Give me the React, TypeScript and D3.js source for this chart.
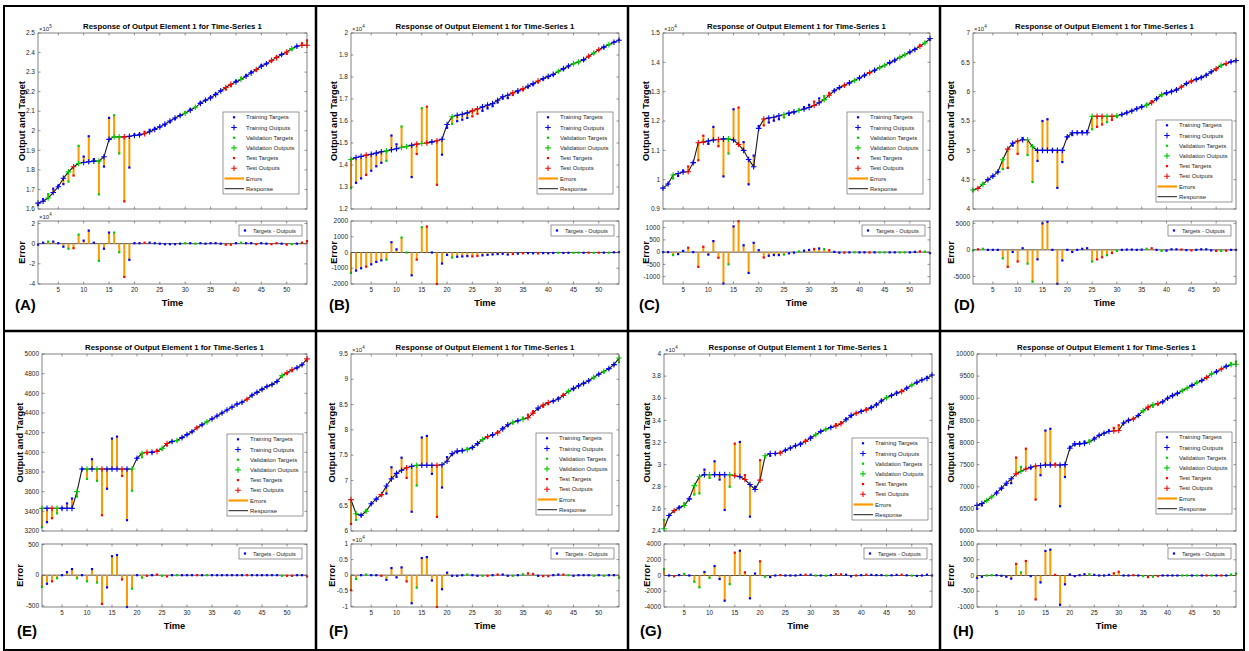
import React from 'react';
import * as d3 from 'd3';

// ---- data (axis units) ----
// split codes: b = training, g = validation, r = test

const outputsA = [1.630, 1.640, 1.656, 1.684, 1.714, 1.757, 1.790, 1.816, 1.833, 1.838,
	1.842, 1.845, 1.845, 1.867, 1.956, 1.969, 1.969, 1.969, 1.972, 1.976,
	1.979, 1.985, 1.995, 2.007, 2.020, 2.034, 2.050, 2.065, 2.078, 2.090,
	2.105, 2.120, 2.140, 2.156, 2.168, 2.185, 2.204, 2.221, 2.238, 2.250,
	2.262, 2.279, 2.296, 2.313, 2.330, 2.343, 2.360, 2.374, 2.390, 2.403,
	2.420, 2.432, 2.437, 2.437];
const errorsA = [-0.1, 0.1, 0.2, 0.2, 0.05, -0.3, -0.5, -0.45, 0.9, 0.3,
	1.3, 0.1, -1.7, -0.5, 1.1, 1.1, -0.85, -3.3, -1.6, 0.05,
	0.05, 0.1, 0.1, 0.05, 0, -0.05, -0.05, -0.05, 0, 0.05,
	0.05, 0, 0.05, 0, 0.05, 0.05, 0, -0.1, -0.1, 0.05,
	0.1, 0.05, 0.05, -0.05, 0.05, 0, -0.05, 0.05, 0, -0.1,
	-0.05, 0, 0.1, 0.25];
const splitA = 'bbgbbbgrgbbbgbbggrbbbrbbbbbbbgbgbbbbbrrbgbbrbbrrbrgbrr';

const outputsB = [1.425, 1.434, 1.439, 1.445, 1.449, 1.454, 1.460, 1.464, 1.469, 1.474,
	1.480, 1.484, 1.490, 1.495, 1.498, 1.500, 1.505, 1.510, 1.517, 1.584,
	1.619, 1.626, 1.631, 1.637, 1.646, 1.655, 1.664, 1.672, 1.679, 1.694,
	1.710, 1.717, 1.728, 1.737, 1.746, 1.758, 1.770, 1.782, 1.793, 1.803,
	1.812, 1.826, 1.838, 1.850, 1.861, 1.868, 1.879, 1.894, 1.909, 1.924,
	1.936, 1.947, 1.958, 1.967];
const errorsB = [-1300, -1150, -1000, -900, -750, -600, -500, -450, 650, 200,
	950, 0, -1450, -450, 1600, 1650, 0, -2000, -700, -150,
	-320, -270, -250, -230, -250, -220, -180, -150, -120, -100,
	-80, -130, -100, -70, -50, -40, -50, -60, -40, -50,
	-30, -20, -30, -20, -20, -10, -20, -10, -20, -10,
	-10, -10, 10, 20];
const splitB = 'gbbrbbbgbbggbrgrbrbbgbbbrrbbbbbbrbrbbrbbbgbbggbrgrbgbb';

const outputsC = [0.971, 0.985, 1.016, 1.021, 1.026, 1.027, 1.058, 1.126, 1.128, 1.132,
	1.135, 1.137, 1.139, 1.139, 1.135, 1.120, 1.100, 1.069, 1.044, 1.175,
	1.207, 1.210, 1.213, 1.218, 1.222, 1.227, 1.231, 1.236, 1.241, 1.246,
	1.253, 1.262, 1.273, 1.288, 1.303, 1.314, 1.322, 1.330, 1.338, 1.347,
	1.356, 1.365, 1.373, 1.382, 1.390, 1.399, 1.407, 1.417, 1.426, 1.435,
	1.444, 1.455, 1.466, 1.481];
const errorsC = [0, 0, -120, -80, 50, 180, 0, -600, 220, -100,
	450, -230, -1280, -500, 1050, 1260, 280, -850, 380, 80,
	-220, -150, -120, -120, -100, -50, -20, 30, 60, 90,
	130, 150, 120, 80, 10, -20, -20, -10, -10, -10,
	-10, -15, -10, -10, -10, -10, -10, -10, -10, -10,
	10, 30, 20, -40];
const splitC = 'bbgbbrbrrbbrbgbrbbbbrbbbgbbgbbrbgrbbrbgbbrbggbbggbbrgb';

const outputsD = [4.323, 4.35, 4.42, 4.50, 4.56, 4.63, 4.84, 5.02, 5.12, 5.16,
	5.18, 5.18, 5.06, 5.00, 5.00, 5.00, 5.00, 5.00, 5.00, 5.23,
	5.30, 5.30, 5.30, 5.30, 5.58, 5.58, 5.58, 5.58, 5.58, 5.59,
	5.61, 5.64, 5.67, 5.71, 5.74, 5.77, 5.81, 5.88, 5.95, 5.98,
	6.00, 6.03, 6.08, 6.14, 6.18, 6.21, 6.24, 6.28, 6.34, 6.39,
	6.45, 6.48, 6.51, 6.53];
const errorsD = [-100, 100, 200, 0, 0, 0, -1600, -3200, -400, -2200,
	300, -2600, -6000, -1800, 5000, 5300, 0, -6400, -2000, 0,
	-400, 0, 200, 300, -2200, -1800, -1400, -1000, -600, -200,
	0, 50, 50, 0, 50, 200, 300, 0, -200, -150,
	100, 100, 50, -50, -100, 0, 100, 100, -100, -200,
	-200, -150, 0, 0];
const splitD = 'grgbbbgrbrbggbbbbbbbbbbbgrrgrgbbbbbgrbgbbbrbrbbbbrgrbb';

const outputsE = [3430, 3430, 3430, 3430, 3430, 3430, 3430, 3600, 3830, 3830,
	3830, 3830, 3830, 3830, 3830, 3830, 3830, 3830, 3830, 3940,
	3990, 4000, 4000, 4010, 4040, 4090, 4110, 4120, 4150, 4180,
	4210, 4250, 4280, 4310, 4340, 4370, 4400, 4430, 4460, 4490,
	4510, 4540, 4580, 4610, 4640, 4670, 4690, 4720, 4780, 4810,
	4840, 4860, 4890, 4950];
const errorsE = [-190, -140, -100, -50, 0, 50, 100, -50, 0, -100,
	100, -120, -470, -200, 310, 330, -70, -520, -220, 0,
	-40, -10, 0, 10, -10, -20, 0, 0, 0, 0,
	0, 0, 0, 0, 0, 0, 0, 0, 0, 0,
	0, 0, 0, 0, 0, 0, 0, 0, -10, -10,
	-10, 0, 0, -20];
const splitE = 'gbrgbbbgbgbgrbbbrbgbgrbrgrbgbbbrbgbbbbbbbrbbbbbbgrrbbr';

const outputsF = [6.62, 6.34, 6.31, 6.39, 6.54, 6.63, 6.72, 6.89, 7.03, 7.14,
	7.20, 7.25, 7.28, 7.30, 7.30, 7.30, 7.30, 7.30, 7.31, 7.38,
	7.53, 7.58, 7.59, 7.61, 7.65, 7.73, 7.81, 7.87, 7.90, 7.94,
	8.02, 8.10, 8.15, 8.18, 8.21, 8.24, 8.33, 8.43, 8.49, 8.54,
	8.57, 8.61, 8.68, 8.76, 8.82, 8.87, 8.92, 8.97, 9.04, 9.10,
	9.16, 9.21, 9.29, 9.42];
const errorsF = [-0.48, -0.12, 0, 0.02, 0, 0, -0.02, -0.15, 0.23, -0.07,
	0.25, -0.2, -0.9, -0.4, 0.55, 0.58, -0.17, -1.02, -0.45, 0.08,
	-0.02, -0.02, 0, 0.02, 0, -0.02, -0.02, -0.02, 0, 0.02,
	0.02, -0.02, -0.02, 0, 0.03, 0.06, 0.04, -0.02, -0.03, -0.03,
	0, 0.02, 0.02, 0, -0.02, 0, 0, 0, -0.02, 0,
	-0.02, 0, 0, -0.08];
const splitF = 'rgbgbbrbbbbrbgbbbrbbbbbgbbgrbrbbgbgrrbrrbbrgbbbbgbgbbg';

const outputsG = [2.42, 2.54, 2.585, 2.61, 2.63, 2.69, 2.81, 2.89, 2.91, 2.91,
	2.91, 2.91, 2.91, 2.91, 2.90, 2.89, 2.865, 2.82, 2.775, 2.86,
	3.08, 3.10, 3.10, 3.105, 3.13, 3.15, 3.17, 3.185, 3.21, 3.24,
	3.27, 3.30, 3.32, 3.335, 3.35, 3.37, 3.405, 3.445, 3.465, 3.48,
	3.495, 3.515, 3.54, 3.575, 3.605, 3.625, 3.645, 3.66, 3.69, 3.72,
	3.745, 3.765, 3.78, 3.81];
const errorsG = [800, 0, -100, 50, 200, 0, -800, -1500, 450, -300,
	1200, -450, -3200, -1100, 2900, 3150, 400, -2900, 250, 1800,
	-150, -200, 0, 50, 0, 0, 0, 80, 100, 100,
	0, 0, -20, 50, 150, 150, 100, -100, 0, 50,
	100, 80, 50, 50, 0, 30, 80, 100, 30, -20,
	-50, 0, 100, 0];
const splitG = 'gbrbgbggbgbbbgrbrbbrgbbrbbbbrbgbgbrrbbrbrbbbgbbrbgbbbb';

const outputsH = [6580, 6620, 6690, 6770, 6860, 6970, 7080, 7180, 7290, 7350,
	7400, 7440, 7470, 7480, 7490, 7490, 7490, 7490, 7500, 7870,
	7970, 7970, 7980, 8010, 8080, 8160, 8210, 8250, 8260, 8270,
	8440, 8500, 8530, 8610, 8720, 8800, 8850, 8880, 8920, 9000,
	9060, 9110, 9170, 9230, 9290, 9350, 9400, 9470, 9550, 9600,
	9660, 9720, 9760, 9770];
const errorsH = [-80, -40, 0, 10, 10, -10, -40, -100, 370, 100,
	460, -20, -760, -220, 780, 820, 20, -930, -280, 30,
	-20, 10, 40, 40, 20, 0, 0, 20, 70, 120,
	0, 0, 10, 0, -20, -50, -40, -20, 0, 0,
	0, 0, 0, 0, 0, 0, 0, 0, 0, 0,
	0, 0, 30, 60];
const splitH = 'bbggbbbbrgrbrbbbrbbbbbbgbbbbrrbbrbgrgrbbbbggbgbrgbrbgg';

// tick values
const timeTicks = [5, 10, 15, 20, 25, 30, 35, 40, 45, 50];
const ticksA = [1.6, 1.7, 1.8, 1.9, 2, 2.1, 2.2, 2.3, 2.4, 2.5];
const errTicksA = [-4, -2, 0, 2];
const ticksB = [1.2, 1.3, 1.4, 1.5, 1.6, 1.7, 1.8, 1.9, 2];
const errTicksB = [-2000, -1000, 0, 1000, 2000];
const ticksC = [0.9, 1, 1.1, 1.2, 1.3, 1.4, 1.5];
const errTicksC = [-1000, -500, 0, 500, 1000];
const ticksD = [4, 4.5, 5, 5.5, 6, 6.5, 7];
const errTicksD = [-5000, 0, 5000];
const ticksE = [3200, 3400, 3600, 3800, 4000, 4200, 4400, 4600, 4800, 5000];
const errTicksE = [-500, 0, 500];
const ticksF = [6, 6.5, 7, 7.5, 8, 8.5, 9, 9.5];
const errTicksF = [-1, -0.5, 0, 0.5, 1];
const ticksG = [2.4, 2.6, 2.8, 3, 3.2, 3.4, 3.6, 3.8, 4];
const errTicksG = [-4000, -2000, 0, 2000, 4000];
const ticksH = [6000, 6500, 7000, 7500, 8000, 8500, 9000, 9500, 10000];
const errTicksH = [-1000, -500, 0, 500, 1000];

const panels = [
	{ tag: '(A)', outputs: outputsA, errors: errorsA, split: splitA, mainDomain: [1.6, 2.5], mainTicks: ticksA, mainExp: 5, errDomain: [-4, 2.25], errTicks: errTicksA, errExp: 4 },
	{ tag: '(B)', outputs: outputsB, errors: errorsB, split: splitB, mainDomain: [1.2, 2], mainTicks: ticksB, mainExp: 4, errDomain: [-2000, 2000], errTicks: errTicksB, errExp: 0 },
	{ tag: '(C)', outputs: outputsC, errors: errorsC, split: splitC, mainDomain: [0.9, 1.5], mainTicks: ticksC, mainExp: 4, errDomain: [-1300, 1270], errTicks: errTicksC, errExp: 0 },
	{ tag: '(D)', outputs: outputsD, errors: errorsD, split: splitD, mainDomain: [4, 7], mainTicks: ticksD, mainExp: 4, errDomain: [-6440, 5440], errTicks: errTicksD, errExp: 0 },
	{ tag: '(E)', outputs: outputsE, errors: errorsE, split: splitE, mainDomain: [3200, 5000], mainTicks: ticksE, mainExp: 0, errDomain: [-520, 510], errTicks: errTicksE, errExp: 0 },
	{ tag: '(F)', outputs: outputsF, errors: errorsF, split: splitF, mainDomain: [6, 9.5], mainTicks: ticksF, mainExp: 4, errDomain: [-1.02, 1], errTicks: errTicksF, errExp: 4 },
	{ tag: '(G)', outputs: outputsG, errors: errorsG, split: splitG, mainDomain: [2.4, 4], mainTicks: ticksG, mainExp: 4, errDomain: [-4000, 4000], errTicks: errTicksG, errExp: 0 },
	{ tag: '(H)', outputs: outputsH, errors: errorsH, split: splitH, mainDomain: [6000, 10000], mainTicks: ticksH, mainExp: 0, errDomain: [-1000, 1000], errTicks: errTicksH, errExp: 0 },
];

const legendItems = [
	['Training Targets', 'dot', 'b'],
	['Training Outputs', 'plus', 'b'],
	['Validation Targets', 'dot', 'g'],
	['Validation Outputs', 'plus', 'g'],
	['Test Targets', 'dot', 'r'],
	['Test Outputs', 'plus', 'r'],
	['Errors', 'err', ''],
	['Response', 'resp', ''],
];

// ---- layout ----
const W = 1249;
const H = 651;
const rows = [
	{ mainTop: 33, mainBot: 209, errTop: 221, errBot: 284, titleY: 29, timeY: 306, tagY: 310 },
	{ mainTop: 354, mainBot: 531, errTop: 544, errBot: 607, titleY: 350, timeY: 629, tagY: 636 },
];
const boxes = [
	{ left: 38, right: 307, labelX: 22, tagX: 15, lgX: 223, lgY: 112 },
	{ left: 351, right: 619, labelX: 334, tagX: 329, lgX: 537, lgY: 112 },
	{ left: 663, right: 930, labelX: 646, tagX: 639, lgX: 847, lgY: 112 },
	{ left: 973, right: 1236, labelX: 951, tagX: 954, lgX: 1156, lgY: 120 },
	{ left: 42, right: 307, labelX: 20, tagX: 17, lgX: 227, lgY: 434 },
	{ left: 351, right: 619, labelX: 332, tagX: 329, lgX: 536, lgY: 433 },
	{ left: 664, right: 932, labelX: 647, tagX: 640, lgX: 852, lgY: 438 },
	{ left: 977, right: 1236, labelX: 951, tagX: 953, lgX: 1156, lgY: 432 },
];

const COLORS: Record<string, string> = { b: '#0000ff', g: '#00cc00', r: '#ff0000' };
const ORANGE = '#ff9900';
const AXIS = '#4d4d4d';
const TXT = '#262626';
const FONT = '"Liberation Sans", Arial, sans-serif';
const TICK = 2.5;

const fmt = (v: number) => String(Math.round(v * 10000) / 10000);

function Plus({ x, y, c }: { x: number; y: number; c: string }) {
	const s = 2.8;
	return (
		<path d={`M${x - s},${y}H${x + s}M${x},${y - s}V${y + s}`} stroke={c} strokeWidth={1.1} />
	);
}

function Dot({ x, y, c }: { x: number; y: number; c: string }) {
	return <rect x={x - 1.1} y={y - 1.1} width={2.2} height={2.2} fill={c} />;
}

function AxesFrame({ x, y, top, bot, left, right, ticks, showX }: any) {
	return (
		<g>
			{timeTicks.map((t) => (
				<g key={'x' + t}>
					<line x1={x(t)} x2={x(t)} y1={bot} y2={bot - TICK} stroke={AXIS} strokeWidth={0.6} />
					<line x1={x(t)} x2={x(t)} y1={top} y2={top + TICK} stroke={AXIS} strokeWidth={0.6} />
					{showX && (
						<text x={x(t)} y={bot + 8} fontSize={6.3} textAnchor="middle" fill={TXT}>{t}</text>
					)}
				</g>
			))}
			{ticks.map((v: number) => (
				<g key={'y' + v}>
					<line x1={left} x2={left + TICK} y1={y(v)} y2={y(v)} stroke={AXIS} strokeWidth={0.6} />
					<line x1={right} x2={right - TICK} y1={y(v)} y2={y(v)} stroke={AXIS} strokeWidth={0.6} />
					<text x={left - 3} y={y(v) + 2.2} fontSize={6.5} textAnchor="end" fill={TXT}>{fmt(v)}</text>
				</g>
			))}
			<rect x={left} y={top} width={right - left} height={bot - top} fill="none" stroke={AXIS} strokeWidth={0.7} />
		</g>
	);
}

function Exponent({ x, y, e }: { x: number; y: number; e: number }) {
	return (
		<text x={x} y={y} fontSize={6} fill={TXT}>
			×10<tspan dy={-3} fontSize={4.5}>{e}</tspan>
		</text>
	);
}

function Panel({ spec, box, row }: any) {
	const { left, right } = box;
	const x = d3.scaleLinear().domain([1, 54]).range([left, right]);
	const y = d3.scaleLinear().domain(spec.mainDomain).range([row.mainBot, row.mainTop]);
	const ye = d3.scaleLinear().domain(spec.errDomain).range([row.errBot, row.errTop]);
	const k = Math.pow(10, spec.errExp - spec.mainExp);
	const pts = spec.outputs.map((o: number, i: number) => ({
		t: i + 1,
		o,
		e: spec.errors[i],
		tg: o + spec.errors[i] * k,
		c: COLORS[spec.split[i]],
	}));
	const line = d3.line<any>().x((d) => x(d.t)).y((d) => y(d.o));
	const cx = (left + right) / 2;
	const lg = { x: box.lgX, y: box.lgY, w: 76, h: 82 };
	const el = { w: 63, h: 11 };
	const elx = right - 5 - el.w;
	const ely = row.errTop + 4;

	return (
		<g fontFamily={FONT}>
			<text x={cx} y={row.titleY} fontSize={7.8} fontWeight="bold" textAnchor="middle" fill="#000">
				Response of Output Element 1 for Time-Series 1
			</text>

			{/* main axes */}
			<rect x={left} y={row.mainTop} width={right - left} height={row.mainBot - row.mainTop} fill="#fff" />
			{pts.map((d: any) => (
				<line key={'e' + d.t} x1={x(d.t)} x2={x(d.t)} y1={y(d.o)} y2={y(d.tg)} stroke={ORANGE} strokeWidth={2} />
			))}
			<path d={line(pts) || ''} fill="none" stroke="#1a1a1a" strokeWidth={1.1} />
			{pts.map((d: any) => (
				<Dot key={'t' + d.t} x={x(d.t)} y={y(d.tg)} c={d.c} />
			))}
			{pts.map((d: any) => (
				<Plus key={'o' + d.t} x={x(d.t)} y={y(d.o)} c={d.c} />
			))}
			<AxesFrame x={x} y={y} top={row.mainTop} bot={row.mainBot} left={left} right={right} ticks={spec.mainTicks} showX={false} />
			{spec.mainExp > 0 && <Exponent x={left + 1} y={row.mainTop - 2} e={spec.mainExp} />}

			{/* legend */}
			<rect x={lg.x} y={lg.y} width={lg.w} height={lg.h} fill="#fff" stroke="#555" strokeWidth={0.6} />
			{legendItems.map(([name, kind, c], i) => {
				const ly = lg.y + 5.3 + i * 10.2;
				const sx = lg.x + 11;
				return (
					<g key={name}>
						{kind === 'dot' && <Dot x={sx} y={ly} c={COLORS[c]} />}
						{kind === 'plus' && <Plus x={sx} y={ly} c={COLORS[c]} />}
						{kind === 'err' && <line x1={lg.x + 1.5} x2={lg.x + 21} y1={ly} y2={ly} stroke={ORANGE} strokeWidth={2.2} />}
						{kind === 'resp' && <line x1={lg.x + 1.5} x2={lg.x + 21} y1={ly} y2={ly} stroke="#1a1a1a" strokeWidth={1} />}
						<text x={lg.x + 23} y={ly + 2} fontSize={6} fill={TXT}>{name}</text>
					</g>
				);
			})}

			<text transform={`translate(${box.labelX},${(row.mainTop + row.mainBot) / 2}) rotate(-90)`} fontSize={9.3} fontWeight="bold" textAnchor="middle" dy={3}>
				Output and Target
			</text>

			{/* error axes */}
			<line x1={left} x2={right} y1={ye(0)} y2={ye(0)} stroke="#222" strokeWidth={0.8} />
			{pts.map((d: any) => (
				<line key={'s' + d.t} x1={x(d.t)} x2={x(d.t)} y1={ye(0)} y2={ye(d.e)} stroke={ORANGE} strokeWidth={2} />
			))}
			{pts.map((d: any) => (
				<Dot key={'d' + d.t} x={x(d.t)} y={ye(d.e)} c={d.c} />
			))}
			<AxesFrame x={x} y={ye} top={row.errTop} bot={row.errBot} left={left} right={right} ticks={spec.errTicks} showX={true} />
			{spec.errExp > 0 && <Exponent x={left + 1} y={row.errTop - 2} e={spec.errExp} />}

			<rect x={elx} y={ely} width={el.w} height={el.h} fill="#fff" stroke="#555" strokeWidth={0.6} />
			<Dot x={elx + 6} y={ely + el.h / 2} c={COLORS.b} />
			<text x={elx + 14} y={ely + el.h / 2 + 2} fontSize={5.6} fill={TXT}>Targets - Outputs</text>

			<text transform={`translate(${box.labelX},${(row.errTop + row.errBot) / 2}) rotate(-90)`} fontSize={9.3} fontWeight="bold" textAnchor="middle" dy={3}>
				Error
			</text>
			<text x={cx} y={row.timeY} fontSize={9.3} fontWeight="bold" textAnchor="middle">Time</text>
			<text x={box.tagX} y={row.tagY} fontSize={15} fontWeight="bold">{spec.tag}</text>
		</g>
	);
}

export default function App() {
	return (
		<svg width={W} height={H} style={{ position: 'absolute', left: 0, top: 0, background: '#fff' }}>
			<rect width={W} height={H} fill="#fff" />
			{panels.map((p, i) => (
				<Panel key={p.tag} spec={p} box={boxes[i]} row={rows[i < 4 ? 0 : 1]} />
			))}
			{/* figure frame and separators */}
			<rect x={4} y={6} width={1240} height={644} fill="none" stroke="#000" strokeWidth={2} />
			<line x1={4} x2={1244} y1={331} y2={331} stroke="#000" strokeWidth={2.5} />
			{[316, 628, 940].map((sx) => (
				<line key={sx} x1={sx} x2={sx} y1={6} y2={650} stroke="#000" strokeWidth={2.5} />
			))}
		</svg>
	);
}
